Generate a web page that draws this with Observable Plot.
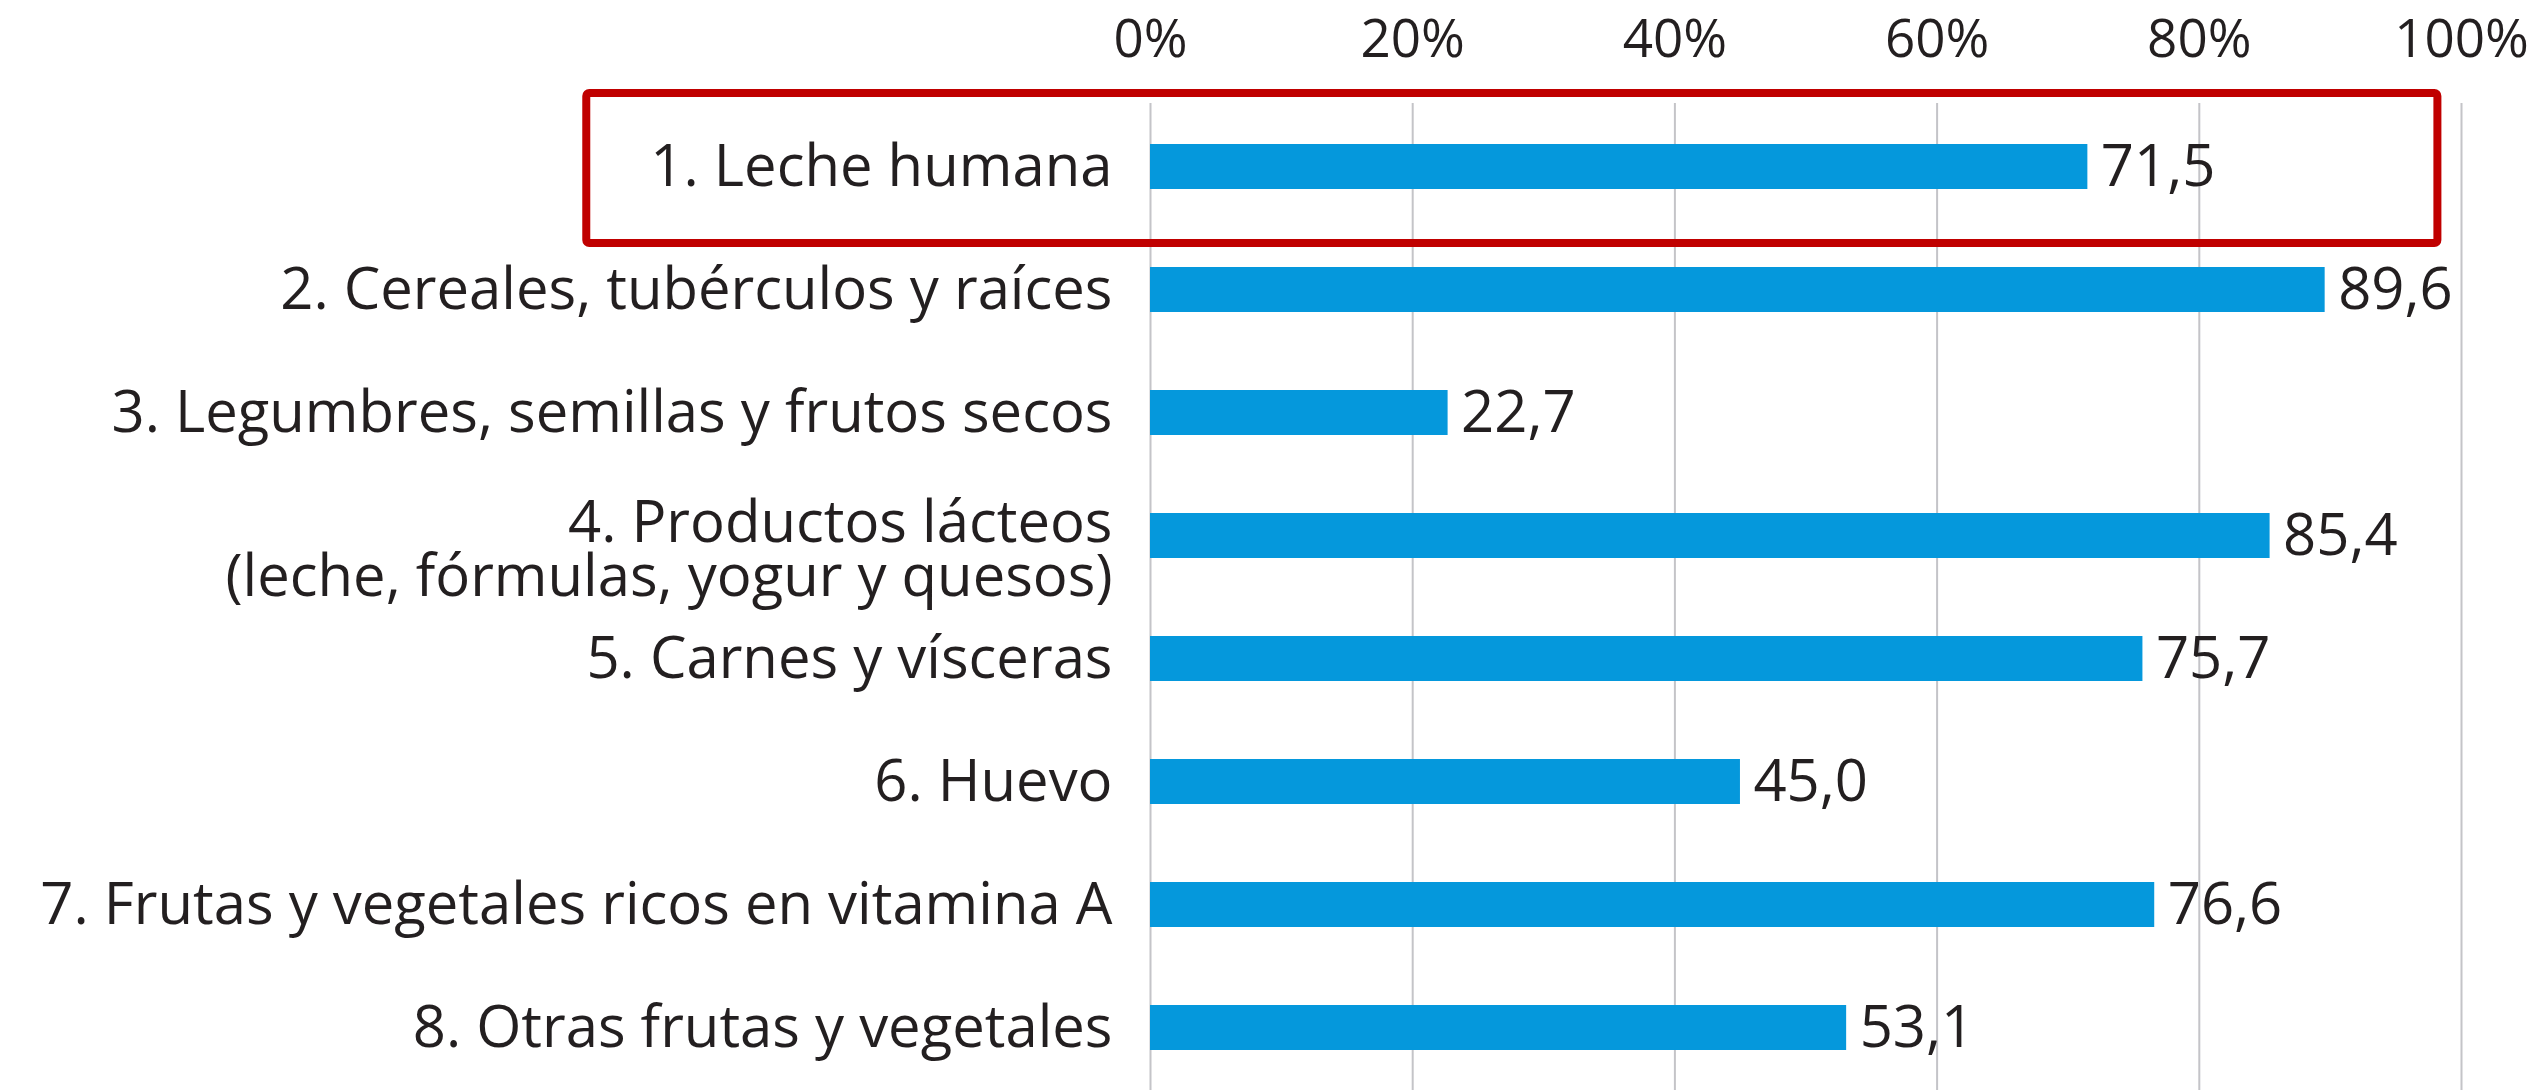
<!DOCTYPE html>
<html><head><meta charset="utf-8">
<script src="https://cdn.jsdelivr.net/npm/d3@7"></script>
<script src="https://cdn.jsdelivr.net/npm/@observablehq/plot@0.6"></script>
<style>body{margin:0;background:#fff;overflow:hidden;}</style>
</head><body><div id="chart"></div>
<script>
const categories = [
  "1. Leche humana",
  "2. Cereales, tubérculos y raíces",
  "3. Legumbres, semillas y frutos secos",
  "4. Productos lácteos\n(leche, fórmulas, yogur y quesos)",
  "5. Carnes y vísceras",
  "6. Huevo",
  "7. Frutas y vegetales ricos en vitamina A",
  "8. Otras frutas y vegetales"
];
const values = [71.5, 89.6, 22.7, 85.4, 75.7, 45.0, 76.6, 53.1];
const xTicks = [0, 20, 40, 60, 80, 100];
const highlighted = ["1. Leche humana"];

const data = categories.map((c, i) => ({category: c, value: values[i]}));
const fmt = v => v.toFixed(1).replace(".", ",");
const singleLine = categories.filter(c => !c.includes("\n"));
const multiLine = categories.filter(c => c.includes("\n"));

const chart = Plot.plot({
  width: 2535, height: 1092,
  marginLeft: 1150, marginRight: 74, marginTop: 103, marginBottom: 2,
  style: {fontFamily: "'Open Sans', sans-serif", fontSize: "56px", color: "#231f20", background: "white", overflow: "visible"},
  x: {domain: [0, 100], label: null},
  y: {domain: categories, paddingInner: 0.635, paddingOuter: 0.3175, label: null},
  marks: [
    Plot.gridX(xTicks, {stroke: "#c4c4c8", strokeOpacity: 1, strokeWidth: 2}),
    Plot.axisX(xTicks, {anchor: "top", tickSize: 0, tickPadding: 47, tickFormat: d => d + "%", fontSize: 53, fill: "#231f20"}),
    Plot.axisY(singleLine, {tickSize: 0, tickPadding: 38, fontSize: 58, fill: "#231f20"}),
    Plot.axisY(multiLine, {tickSize: 0, tickPadding: 38, fontSize: 58, lineHeight: 0.92, dy: 16, fill: "#231f20"}),
    Plot.barX(data, {x: "value", y: "category", fill: "#0598dc"}),
    Plot.text(data, {x: "value", y: "category", text: d => fmt(d.value), textAnchor: "start", dx: 13, fontSize: 58, fill: "#231f20"}),
    Plot.barX(highlighted, {x1: -43, x2: 98.2, y: d => d, fill: "none", stroke: "#c00000", strokeWidth: 8, rx: 3, insetTop: -51, insetBottom: -54})
  ]
});
document.getElementById("chart").appendChild(chart);
</script>
</body></html>
